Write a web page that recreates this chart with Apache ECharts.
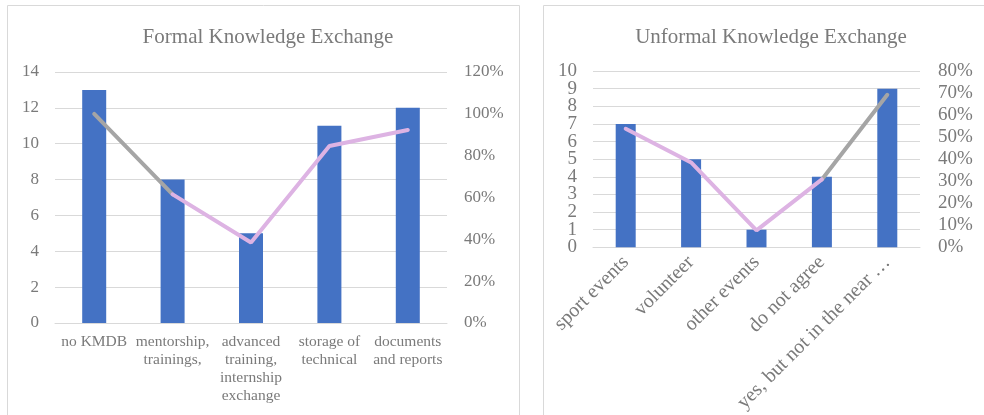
<!DOCTYPE html>
<html><head><meta charset="utf-8">
<script src="https://cdn.jsdelivr.net/npm/echarts@6/dist/echarts.min.js"></script>
<style>html,body{margin:0;padding:0;background:#fff}#c{width:984px;height:415px}</style>
</head><body><div id="c"></div>
<script>
const formalCategories = ["no KMDB", "mentorship,\ntrainings,", "advanced\ntraining,\ninternship\nexchange", "storage of\ntechnical", "documents\nand reports"];
const formalCounts = [13, 8, 5, 11, 12];
const formalShare = [1.0, 0.615, 0.385, 0.846, 0.923];
const unformalCategories = ["sport events", "volunteer", "other events", "do not agree", "yes, but not in the near future"];
const unformalCounts = [7, 5, 1, 4, 9];
const unformalShare = [0.538, 0.385, 0.077, 0.308, 0.692];
// count-axis tick labels, split in two sets so the tight labels all stay visible
const unformalEvenTicks = [0, 2, 4, 6, 8, 10];
const unformalOddTicks = [1, 3, 5, 7, 9];
// which segments are grey: formal first segment, unformal last segment
const formalGrey = formalShare.map((v, i) => i <= 1 ? v : null);
const formalPink = formalShare.map((v, i) => i >= 1 ? v : null);
const unformalPink = unformalShare.map((v, i) => i <= 3 ? v : null);
const unformalGrey = unformalShare.map((v, i) => i >= 3 ? v : null);

const font = "Liberation Serif";
const txt = "#7a7a7a";
const gridC = "#d9d9d9";
const blue = "#4472C4", grey = "#A5A5A5", pink = "#DDB3E3";

const chart = echarts.init(document.getElementById('c'), null, {renderer: 'canvas'});
function pct(v){ return Math.round(v*100) + '%'; }
chart.setOption({
  animation: false,
  textStyle: {fontFamily: font},
  graphic: [
    {type: 'rect', shape: {x: 7.5, y: 5.5, width: 512, height: 420}, style: {fill: 'none', stroke: '#d9d9d9', lineWidth: 1}},
    {type: 'rect', shape: {x: 543.5, y: 5.5, width: 460, height: 420}, style: {fill: 'none', stroke: '#d9d9d9', lineWidth: 1}}
  ],
  title: [
    {text: 'Formal Knowledge Exchange', left: 263, top: 22, textAlign: 'center',
     textStyle: {fontFamily: font, fontSize: 21, fontWeight: 'normal', color: txt}},
    {text: 'Unformal Knowledge Exchange', left: 766, top: 22, textAlign: 'center',
     textStyle: {fontFamily: font, fontSize: 21, fontWeight: 'normal', color: txt}}
  ],
  grid: [
    {left: 55, right: 537, top: 72, bottom: 92},
    {left: 593, right: 64, top: 71, bottom: 167}
  ],
  xAxis: [
    {type: 'category', gridIndex: 0, data: formalCategories,
     axisLine: {lineStyle: {color: gridC}}, axisTick: {show: false},
     axisLabel: {color: txt, fontFamily: font, fontSize: 15.5, lineHeight: 18, margin: 10, interval: 0}},
    {type: 'category', gridIndex: 1, data: unformalCategories,
     axisLine: {lineStyle: {color: gridC}}, axisTick: {show: false},
     axisLabel: {color: txt, fontFamily: font, fontSize: 20, rotate: 45, margin: 12, interval: 0,
       width: 210, overflow: 'truncate', ellipsis: '…'}}
  ],
  yAxis: [
    {type: 'value', gridIndex: 0, min: 0, max: 14, interval: 2,
     axisLine: {show: false}, axisTick: {show: false},
     splitLine: {lineStyle: {color: gridC}},
     axisLabel: {color: txt, fontFamily: font, fontSize: 17, margin: 16, showMinLabel: true, showMaxLabel: true}},
    {type: 'value', gridIndex: 0, min: 0, max: 1.2, interval: 0.2, position: 'right',
     axisLine: {show: false}, axisTick: {show: false}, splitLine: {show: false},
     axisLabel: {color: txt, fontFamily: font, fontSize: 17, margin: 17, formatter: pct, showMinLabel: true, showMaxLabel: true}},
    {type: 'value', gridIndex: 1, min: 0, max: 10, interval: 1, position: 'left',
     axisLine: {show: false}, axisTick: {show: false},
     splitLine: {lineStyle: {color: gridC}},
     axisLabel: {color: txt, fontFamily: font, fontSize: 19, margin: 16, showMinLabel: true, showMaxLabel: true,
       customValues: unformalEvenTicks}},
    {type: 'value', gridIndex: 1, min: 0, max: 0.8, interval: 0.1, position: 'right',
     axisLine: {show: false}, axisTick: {show: false}, splitLine: {show: false},
     axisLabel: {color: txt, fontFamily: font, fontSize: 19, margin: 18, formatter: pct, showMinLabel: true, showMaxLabel: true, hideOverlap: false}},
    {type: 'value', gridIndex: 1, min: 0, max: 10, interval: 1, position: 'left', offset: 0,
     axisLine: {show: false}, axisTick: {show: false}, splitLine: {show: false},
     axisLabel: {color: txt, fontFamily: font, fontSize: 19, margin: 16,
       customValues: unformalOddTicks}}
  ],
  series: [
    {type: 'bar', xAxisIndex: 0, yAxisIndex: 0, data: formalCounts, barWidth: 24, itemStyle: {color: blue}},
    {type: 'line', xAxisIndex: 0, yAxisIndex: 1, data: formalGrey, showSymbol: false, lineStyle: {color: grey, width: 4, cap: 'round'}, z: 3},
    {type: 'line', xAxisIndex: 0, yAxisIndex: 1, data: formalPink, showSymbol: false, lineStyle: {color: pink, width: 4, cap: 'round'}, z: 3},
    {type: 'bar', xAxisIndex: 1, yAxisIndex: 2, data: unformalCounts, barWidth: 20, itemStyle: {color: blue}},
    {type: 'line', xAxisIndex: 1, yAxisIndex: 3, data: unformalGrey, showSymbol: false, lineStyle: {color: grey, width: 4, cap: 'round'}, z: 3},
    {type: 'line', xAxisIndex: 1, yAxisIndex: 3, data: unformalPink, showSymbol: false, lineStyle: {color: pink, width: 4, cap: 'round'}, z: 3}
  ]
});
</script>
</body></html>
